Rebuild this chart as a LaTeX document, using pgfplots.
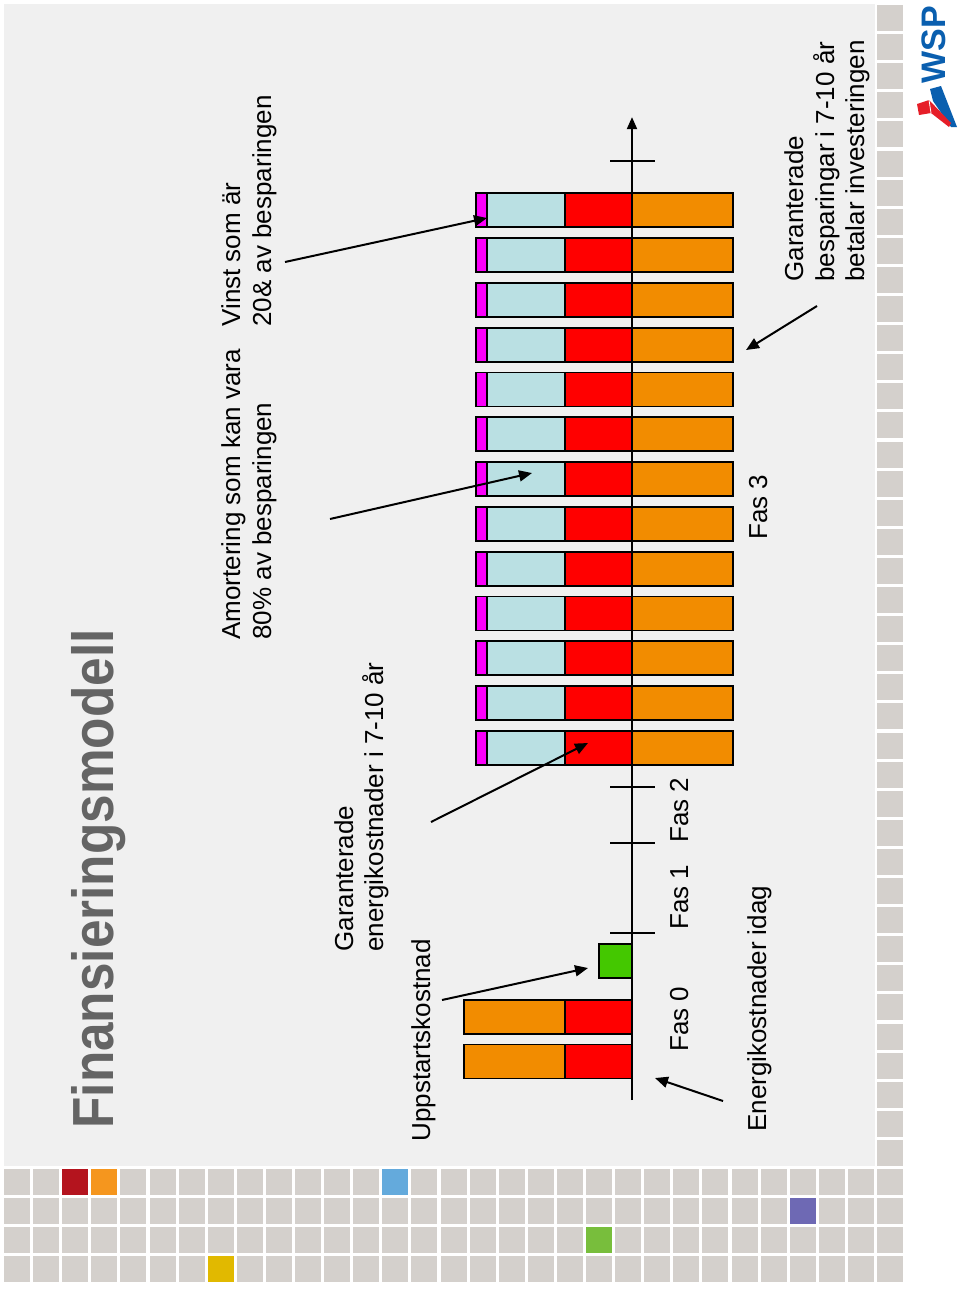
\documentclass[border=0pt]{standalone}
\usepackage{pgfplots}
\pgfplotsset{compat=1.18}
\usepackage{fontspec}
\setmainfont{Liberation Sans}
\usetikzlibrary{arrows.meta}
\definecolor{slidebg}{RGB}{240,240,240}
\definecolor{gridc}{RGB}{212,208,204}
\definecolor{barorange}{RGB}{242,140,0}
\definecolor{barred}{RGB}{255,0,0}
\definecolor{barblue}{RGB}{186,224,227}
\definecolor{barmag}{RGB}{250,0,250}
\definecolor{bargreen}{RGB}{68,200,0}
\definecolor{titlegray}{RGB}{100,100,100}
\definecolor{cdred}{RGB}{180,20,30}
\definecolor{corange}{RGB}{245,150,30}
\definecolor{cblue}{RGB}{100,170,220}
\definecolor{cgreen}{RGB}{120,190,60}
\definecolor{cpurple}{RGB}{110,105,180}
\definecolor{cyellow}{RGB}{225,185,0}
\definecolor{wspblue}{RGB}{10,95,175}
\definecolor{wspred}{RGB}{230,30,40}
\begin{document}
\begin{tikzpicture}[x=0.5pt,y=-0.5pt]
\useasboundingbox (0,0) rectangle (960,1290);
\fill[white] (0,0) rectangle (960,1290);
\fill[slidebg] (4,4) rectangle (875,1166);
% decorative grid
\foreach \r in {0,...,39} {\fill[gridc] (877,{5+29.1*\r}) rectangle ++(26,26);}
\foreach \c in {0,...,30} {\foreach \r in {40,...,43} {\fill[gridc] ({4+29.1*\c},{5+29.1*\r}) rectangle ++(26,26);}}
\fill[cdred] ({4+29.1*2},{5+29.1*40}) rectangle ++(26,26);
\fill[corange] ({4+29.1*3},{5+29.1*40}) rectangle ++(26,26);
\fill[cblue] ({4+29.1*13},{5+29.1*40}) rectangle ++(26,26);
\fill[cgreen] ({4+29.1*20},{5+29.1*42}) rectangle ++(26,26);
\fill[cpurple] ({4+29.1*27},{5+29.1*41}) rectangle ++(26,26);
\fill[cyellow] ({4+29.1*7},{5+29.1*43}) rectangle ++(26,26);
% WSP logo
\node[rotate=90, anchor=base west, inner sep=0, text=wspblue, font=\fontsize{17}{19}\bfseries] at (945,84) {WSP};
\fill[wspblue] (930,89) -- (941,86) -- (957,127) -- (951,127) -- (933,101) -- cycle;
\fill[wspred] (917,104) -- (929,100) -- (951,123) -- (949,127) -- (931,113) -- (919,115) -- cycle;
\draw[white, line width=0.4pt] (929,100) -- (931,113);

\coordinate (O) at (632,1106.3);
\begin{axis}[at={(O)}, anchor=origin,
  x=0.5pt, y=22.4pt, x dir=reverse,
  xmin=-120, xmax=180, ymin=-0.5, ymax=23,
  hide axis, clip=false,
  mybar/.style={xbar, bar shift=0pt, bar width=0.759, draw=black, line width=0.9pt}]
\draw[line width=1pt, -{Triangle[length=6pt,width=5pt]}] (axis cs:0,0.14) -- (axis cs:0,22.08);
\draw[line width=0.8pt] (axis cs:22,3.87) -- (axis cs:-23,3.87);
\draw[line width=0.8pt] (axis cs:22,5.88) -- (axis cs:-23,5.88);
\draw[line width=0.8pt] (axis cs:22,7.13) -- (axis cs:-23,7.13);
\draw[line width=0.8pt] (axis cs:22,21.1) -- (axis cs:-23,21.1);
% Fas 3: magenta (vinst), light blue (amortering), red (energikostnad), orange (besparing)
\addplot[mybar, fill=barmag] coordinates {(156,8) (156,9) (156,10) (156,11) (156,12) (156,13) (156,14) (156,15) (156,16) (156,17) (156,18) (156,19) (156,20)};
\addplot[mybar, fill=barblue] coordinates {(145,8) (145,9) (145,10) (145,11) (145,12) (145,13) (145,14) (145,15) (145,16) (145,17) (145,18) (145,19) (145,20)};
\addplot[mybar, fill=barorange] coordinates {(-101,8) (-101,9) (-101,10) (-101,11) (-101,12) (-101,13) (-101,14) (-101,15) (-101,16) (-101,17) (-101,18) (-101,19) (-101,20) (168,1) (168,2)};
\addplot[mybar, fill=barred] coordinates {(67,1) (67,2) (67,8) (67,9) (67,10) (67,11) (67,12) (67,13) (67,14) (67,15) (67,16) (67,17) (67,18) (67,19) (67,20)};
\addplot[mybar, fill=bargreen] coordinates {(33,3.24)};
\end{axis}

% texts
\tikzset{lbl/.style={rotate=90, anchor=base west, inner sep=0, font=\fontsize{13}{15.6}\selectfont}}
\node[rotate=90, anchor=base west, inner sep=0, text=titlegray] at (113,1129) {\scalebox{0.885}[1]{\fontsize{29}{34}\bfseries Finansieringsmodell}};
\node[lbl] at (240,640) {Amortering som kan vara};
\node[lbl] at (271,640) {80\% av besparingen};
\node[lbl] at (240,327) {Vinst som är};
\node[lbl] at (271,327) {20\& av besparingen};
\node[lbl] at (353,952) {Garanterade};
\node[lbl] at (383,952) {energikostnader i 7-10 år};
\node[lbl] at (430,1142) {Uppstartskostnad};
\node[lbl] at (688,1052) {Fas 0};
\node[lbl] at (688,930) {Fas 1};
\node[lbl] at (688,843) {Fas 2};
\node[lbl] at (767,540) {Fas 3};
\node[lbl] at (766,1132) {Energikostnader idag};
\node[lbl] at (803,282) {Garanterade};
\node[lbl] at (834,282) {besparingar i 7-10 år};
\node[lbl] at (864,282) {betalar investeringen};
% arrows
\tikzset{arr/.style={line width=1pt, -{Triangle[length=6.5pt,width=5.5pt]}}}
\draw[arr] (723,1101) -- (655,1078);
\draw[arr] (442,1000) -- (588,968);
\draw[arr] (431,822) -- (588,743);
\draw[arr] (330,519) -- (532,473);
\draw[arr] (285,262) -- (487,218);
\draw[arr] (817,306) -- (746,350);
\end{tikzpicture}
\end{document}
